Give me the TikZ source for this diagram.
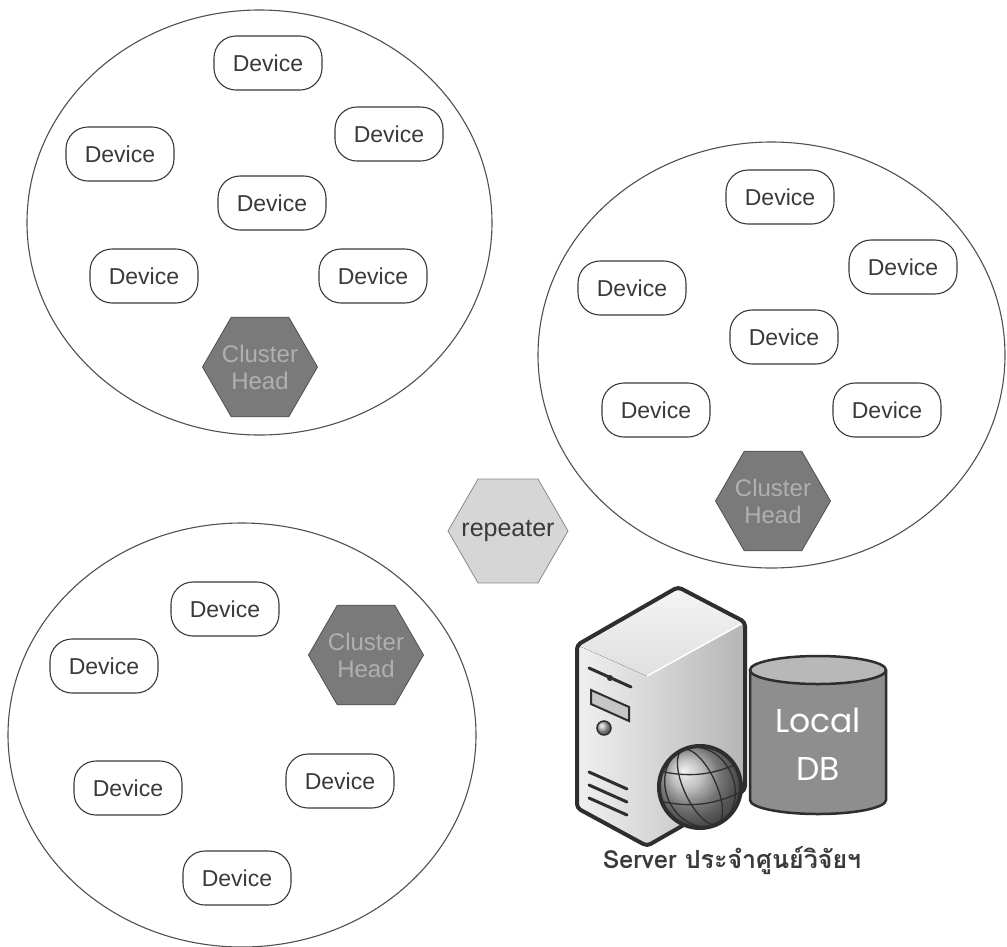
\documentclass[tikz,border=0pt]{standalone}
\usepackage{fontspec}
\setmainfont{Liberation Sans}
\newfontfamily\thaifont[Script=Thai]{Loma}
\newfontfamily\dbfont{Poppins}
\usepackage{tikz}
\usepackage{xcolor}
\usetikzlibrary{shapes.geometric}

\definecolor{inkgray}{HTML}{3A3A3A}
\definecolor{darkink}{HTML}{2E2E2E}
\definecolor{ringgray}{HTML}{505050}
\definecolor{headfill}{HTML}{7A7A7A}
\definecolor{headtext}{HTML}{B0B0B0}
\definecolor{repfill}{HTML}{D6D6D6}
\definecolor{repedge}{HTML}{8A8A8A}
\definecolor{cylbody}{HTML}{8E8E8E}
\definecolor{cyltop}{HTML}{B8B8B8}

\tikzset{
    devicebox/.style={draw=inkgray, line width=1.1pt, rounded corners=22pt,
        minimum width=108pt, minimum height=54pt, inner sep=0pt,
        text=inkgray, font=\fontsize{23}{27}\selectfont},
    headbox/.style={regular polygon, regular polygon sides=6,
        minimum size=115pt, inner sep=0pt, draw=ringgray, line width=0.8pt,
        fill=headfill, text=headtext, align=center,
        font=\fontsize{24}{27}\selectfont},
    repbox/.style={headbox, minimum size=120pt, draw=repedge,
        fill=repfill, text=inkgray, font=\fontsize{25}{27}\selectfont},
    ring/.style={draw=ringgray, line width=1.1pt}
}

\begin{document}
\begin{tikzpicture}[x=1pt, y=-1pt]
            %% 画布背景
            \fill[white] (0,0) rectangle (1007,946);
            \useasboundingbox (0,0) rectangle (1007,946);
            %% 定义device命令
            \newcommand{\device}[3]{
                \node[devicebox] (#1) at (#2,#3) {Device};
            }
            %% 定义clusterhead命令 (零宽文字, 六边形大小不随文字变化)
            \newcommand{\clusterhead}[3]{
                \node[headbox] (#1) at (#2,#3) {\makebox[0pt]{Cluster}\\\makebox[0pt]{Head}};
            }

            %% 三个簇的外圈
            \draw[ring] (259.5,222.5) ellipse [x radius=232.5, y radius=212.5];
            \draw[ring] (771.5,355) ellipse [x radius=233.5, y radius=213];
            \draw[ring] (242,735) ellipse [x radius=234, y radius=212];

            %% 左上簇
            \device{a1}{268}{63};
            \device{a2}{389}{134};
            \device{a3}{120}{154};
            \device{a4}{272}{203};
            \device{a5}{144}{276};
            \device{a6}{373}{276};
            \clusterhead{headA}{260}{367};

            %% 右侧簇
            \device{b1}{780}{197};
            \device{b2}{903}{267};
            \device{b3}{632}{288};
            \device{b4}{784}{337};
            \device{b5}{656}{410};
            \device{b6}{887}{410};
            \clusterhead{headB}{773}{501};

            %% 左下簇
            \device{c1}{225}{609};
            \device{c2}{104}{666};
            \device{c3}{128}{788};
            \device{c4}{340}{781};
            \device{c5}{237}{878};
            \clusterhead{headC}{366}{655};

            %% 中继
            \node[repbox] (rep) at (508,531) {\makebox[0pt]{repeater}};

            %% 服务器机箱
            \coordinate (tA) at (577,645);
            \coordinate (tB) at (678,587);
            \coordinate (tC) at (745,622);
            \coordinate (tD) at (647,676);
            \coordinate (tE) at (647,846);
            \coordinate (tF) at (577,808);
            \coordinate (tG) at (745,790);
            \fill[left color=gray!12, right color=gray!30] (tA)--(tD)--(tE)--(tF)--cycle;
            \fill[left color=gray!30, right color=gray!58] (tD)--(tC)--(tG)--(tE)--cycle;
            \fill[top color=gray!8, bottom color=gray!25] (tA)--(tB)--(tC)--(tD)--cycle;
            \draw[white, line width=1.5pt] (tD)--(tC);
            \draw[darkink, line width=4pt, line join=round, rounded corners=4pt]
                (tA)--(tB)--(tC)--(tG)--(tE)--(tF)--cycle;
            % 前面板
            \draw[darkink, line width=3pt, line cap=round] (589,668)--(631,687);
            \fill[darkink] (610,678) circle [radius=3];
            \draw[darkink, line width=2pt, fill=gray!45] (591,690)--(629,707)--(629,721)--(591,704)--cycle;
            \shade[ball color=gray!60] (604,728) circle [radius=7];
            \draw[darkink, line width=1.5pt] (604,728) circle [radius=7];
            \foreach \v in {0, 13, 26}{
                \draw[darkink, line width=3pt, line cap=round] (589,772+\v)--(627,789+\v);
            }

            %% 地球
            \shade[ball color=gray!65] (700,787) circle [radius=41];
            \begin{scope}
                \clip (700,787) circle [radius=41];
                \draw[darkink, line width=1.3pt, rotate around={25:(700,787)}]
                    (700,787) ellipse [x radius=16, y radius=41];
                \draw[darkink, line width=1.3pt, rotate around={25:(700,787)}]
                    (700,787) ellipse [x radius=34, y radius=41];
                \draw[darkink, line width=1.3pt] (655,770) to[bend right=20] (745,760);
                \draw[darkink, line width=1.3pt] (655,800) to[bend right=20] (745,790);
            \end{scope}
            \draw[darkink, line width=4pt] (700,787) circle [radius=41];

            %% 本地数据库
            \fill[cylbody] (750,670)--(750,800) arc [start angle=180, end angle=0, x radius=68, y radius=14]--(886,670)--cycle;
            \draw[darkink, line width=2.5pt, fill=cyltop] (818,670) ellipse [x radius=68, y radius=14];
            \draw[darkink, line width=2.5pt] (750,670)--(750,800) arc [start angle=180, end angle=0, x radius=68, y radius=14]--(886,670);
            \node[text=white, align=center, font=\dbfont\fontsize{33}{48}\selectfont] (db) at (818,744) {Local\\DB};

            %% 说明文字
            \node[anchor=base, text=inkgray, font=\thaifont\bfseries\fontsize{25}{30}\selectfont] (srv) at (732,868) {Server ประจำศูนย์วิจัยฯ};
\end{tikzpicture}
\end{document}
